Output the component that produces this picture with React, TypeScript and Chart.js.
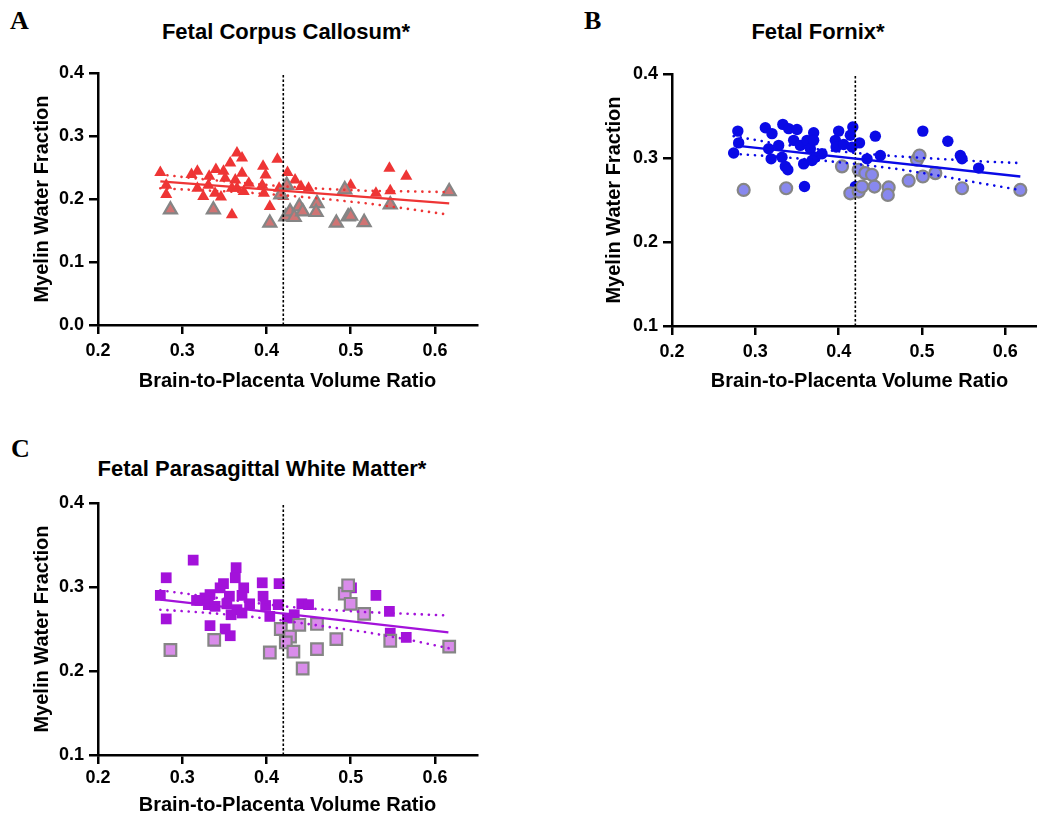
import React, { useEffect, useRef } from "react";
import { Chart, registerables } from "chart.js";

Chart.register(...registerables);

const FONT = "'Liberation Sans', Arial, Helvetica, sans-serif";
const SERIF = "'Liberation Serif', 'Times New Roman', serif";

// ---------- shared ----------
const xTicks = [0.2, 0.3, 0.4, 0.5, 0.6];
const xTitle = "Brain-to-Placenta Volume Ratio";
const yTitle = "Myelin Water Fraction";
const cutoffX = 0.42;
const bandX = [0.274, 0.32, 0.37, 0.42, 0.47, 0.52, 0.57, 0.617];

// ---------- Panel A: Corpus Callosum ----------
const aYTicks = [0, 0.1, 0.2, 0.3, 0.4];
const aRedX = [0.274, 0.281, 0.281, 0.311, 0.318, 0.318, 0.325, 0.332, 0.331, 0.340, 0.339, 0.346, 0.349, 0.351, 0.357, 0.359, 0.359, 0.365, 0.371, 0.371, 0.363, 0.365, 0.373, 0.379, 0.396, 0.399, 0.395, 0.397, 0.404, 0.413, 0.415, 0.425, 0.434, 0.441, 0.450, 0.500, 0.530, 0.546, 0.566, 0.547, 0.420];
const aRedY = [0.242, 0.222, 0.207, 0.239, 0.244, 0.217, 0.204, 0.236, 0.222, 0.247, 0.209, 0.203, 0.244, 0.233, 0.257, 0.217, 0.175, 0.273, 0.265, 0.241, 0.230, 0.217, 0.212, 0.225, 0.252, 0.238, 0.222, 0.209, 0.188, 0.263, 0.217, 0.242, 0.230, 0.220, 0.217, 0.222, 0.209, 0.249, 0.236, 0.213, 0.204];
const aGrayX = [0.286, 0.337, 0.404, 0.417, 0.424, 0.423, 0.428, 0.433, 0.439, 0.443, 0.460, 0.459, 0.483, 0.493, 0.497, 0.500, 0.516, 0.547, 0.617];
const aGrayY = [0.183, 0.183, 0.162, 0.207, 0.222, 0.172, 0.180, 0.171, 0.188, 0.180, 0.193, 0.179, 0.162, 0.215, 0.172, 0.173, 0.163, 0.191, 0.212];
const aFitX = [0.274, 0.617];
const aFitY = [0.228, 0.193];
const aUpper = [0.239, 0.232, 0.226, 0.220, 0.216, 0.213, 0.212, 0.211];
const aLower = [0.217, 0.214, 0.211, 0.206, 0.200, 0.193, 0.184, 0.175];

// ---------- Panel B: Fornix ----------
const bYTicks = [0.1, 0.2, 0.3, 0.4];
const bBlueX = [0.274, 0.279, 0.280, 0.312, 0.320, 0.316, 0.319, 0.328, 0.332, 0.333, 0.340, 0.350, 0.346, 0.336, 0.339, 0.354, 0.358, 0.359, 0.362, 0.366, 0.370, 0.370, 0.372, 0.368, 0.380, 0.396, 0.400, 0.397, 0.406, 0.414, 0.417, 0.416, 0.425, 0.420, 0.434, 0.444, 0.450, 0.501, 0.531, 0.546, 0.548, 0.568];
const bBlueY = [0.306, 0.332, 0.318, 0.336, 0.329, 0.311, 0.299, 0.315, 0.301, 0.340, 0.335, 0.334, 0.321, 0.290, 0.286, 0.315, 0.293, 0.266, 0.321, 0.311, 0.330, 0.321, 0.301, 0.297, 0.305, 0.321, 0.332, 0.313, 0.316, 0.327, 0.337, 0.313, 0.318, 0.266, 0.299, 0.326, 0.303, 0.332, 0.320, 0.303, 0.299, 0.288];
const bGrayX = [0.286, 0.337, 0.404, 0.414, 0.424, 0.424, 0.428, 0.432, 0.440, 0.443, 0.460, 0.459, 0.484, 0.494, 0.497, 0.501, 0.516, 0.548, 0.618];
const bGrayY = [0.262, 0.264, 0.290, 0.258, 0.260, 0.286, 0.266, 0.282, 0.280, 0.266, 0.265, 0.256, 0.273, 0.298, 0.303, 0.278, 0.282, 0.264, 0.262];
const bFitX = [0.274, 0.618];
const bFitY = [0.315, 0.278];
const bUpper = [0.326, 0.318, 0.311, 0.306, 0.302, 0.299, 0.296, 0.294];
const bLower = [0.305, 0.302, 0.298, 0.293, 0.287, 0.279, 0.270, 0.262];

// ---------- Panel C: Parasagittal White Matter ----------
const cYTicks = [0.1, 0.2, 0.3, 0.4];
const cPurpX = [0.274, 0.281, 0.281, 0.313, 0.317, 0.321, 0.327, 0.331, 0.333, 0.339, 0.333, 0.339, 0.345, 0.349, 0.351, 0.357, 0.356, 0.353, 0.358, 0.364, 0.363, 0.365, 0.371, 0.373, 0.371, 0.380, 0.395, 0.396, 0.399, 0.404, 0.415, 0.414, 0.425, 0.433, 0.442, 0.450, 0.501, 0.530, 0.546, 0.547, 0.566, 0.424];
const cPurpY = [0.290, 0.311, 0.262, 0.332, 0.284, 0.284, 0.287, 0.279, 0.291, 0.277, 0.254, 0.236, 0.299, 0.304, 0.250, 0.242, 0.289, 0.280, 0.267, 0.323, 0.311, 0.273, 0.269, 0.299, 0.290, 0.280, 0.305, 0.289, 0.278, 0.265, 0.304, 0.279, 0.263, 0.267, 0.280, 0.279, 0.299, 0.290, 0.271, 0.245, 0.240, 0.234];
const cGrayX = [0.286, 0.338, 0.404, 0.417, 0.428, 0.423, 0.432, 0.439, 0.443, 0.460, 0.460, 0.483, 0.493, 0.497, 0.500, 0.516, 0.547, 0.617];
const cGrayY = [0.225, 0.237, 0.222, 0.250, 0.241, 0.234, 0.223, 0.255, 0.203, 0.256, 0.226, 0.238, 0.292, 0.302, 0.280, 0.268, 0.236, 0.229];
const cFitX = [0.274, 0.616];
const cFitY = [0.285, 0.246];
const cUpper = [0.296, 0.290, 0.283, 0.277, 0.273, 0.270, 0.268, 0.266];
const cLower = [0.273, 0.270, 0.266, 0.260, 0.253, 0.246, 0.237, 0.227];

const zip = (xs: number[], ys: number[]) => xs.map((x, i) => ({ x, y: ys[i] }));

type PanelProps = {
  left: number;
  top: number;
  width: number;
  height: number;
  yAxisW: number;
  xAxisH: number;
  padTop: number;
  padRight: number;
  yTitlePad: number;
  xTitlePad: number;
  xTickPad: number;
  yTicks: number[];
  mainX: number[];
  mainY: number[];
  grayX: number[];
  grayY: number[];
  fitX: number[];
  fitY: number[];
  upper: number[];
  lower: number[];
  color: string;
  grayFill: string;
  style: string;
  mainRadius: number;
  grayRadius: number;
};

function Panel(p: PanelProps) {
  const ref = useRef<HTMLCanvasElement | null>(null);
  useEffect(() => {
    if (!ref.current) return;
    const yMin = p.yTicks[0];
    const yMax = p.yTicks[p.yTicks.length - 1];
    const tickFont = { family: FONT, size: 18, weight: "bold" as const };
    const titleFont = { family: FONT, size: 20, weight: "bold" as const };
    const band = (ys: number[]) =>
      ({
        type: "line",
        data: zip(bandX, ys),
        borderColor: p.color,
        borderWidth: 2.6,
        borderDash: [0.1, 7],
        borderCapStyle: "round",
        pointRadius: 0,
        showLine: true,
        order: 0,
      } as any);
    const chart = new Chart(ref.current, {
      type: "scatter",
      data: {
        datasets: [
          {
            type: "line",
            data: zip(p.fitX, p.fitY),
            borderColor: p.color,
            borderWidth: 2.4,
            pointRadius: 0,
            showLine: true,
            order: 0,
          } as any,
          band(p.upper),
          band(p.lower),
          {
            type: "line",
            data: [
              { x: cutoffX, y: yMin },
              { x: cutoffX, y: yMax + 0.003 },
            ],
            borderColor: "#000",
            borderWidth: 1.6,
            borderDash: [2.5, 2],
            pointRadius: 0,
            showLine: true,
            order: 0,
          } as any,
          {
            data: zip(p.grayX, p.grayY),
            pointStyle: p.style,
            pointRadius: p.grayRadius,
            backgroundColor: p.grayFill,
            borderColor: "#858585",
            borderWidth: 2.2,
            order: 1,
          } as any,
          {
            data: zip(p.mainX, p.mainY),
            pointStyle: p.style,
            pointRadius: p.mainRadius,
            backgroundColor: p.color,
            borderColor: p.color,
            borderWidth: 0,
            order: 2,
          } as any,
        ],
      },
      options: {
        animation: false,
        responsive: false,
        maintainAspectRatio: false,
        devicePixelRatio: 1,
        layout: { padding: { left: 0, top: p.padTop, right: p.padRight, bottom: 0 } },
        plugins: {
          legend: { display: false },
          tooltip: { enabled: false },
          title: { display: false },
        },
        scales: {
          x: {
            type: "linear",
            min: 0.2,
            max: 0.65,
            afterFit: (s: any) => {
              s.height = p.xAxisH;
            },
            afterBuildTicks: (s: any) => {
              s.ticks = xTicks.map((v) => ({ value: v }));
            },
            grid: {
              drawOnChartArea: false,
              drawTicks: true,
              tickLength: 9,
              tickWidth: 2.5,
              tickColor: "#000",
              color: "#000",
              lineWidth: 2.5,
            },
            border: { display: true, color: "#000", width: 2.5 },
            ticks: {
              color: "#000",
              font: tickFont,
              padding: p.xTickPad,
              maxRotation: 0,
              autoSkip: false,
              callback: (v: any) => Number(v).toFixed(1),
            },
            title: {
              display: true,
              text: xTitle,
              color: "#000",
              font: titleFont,
              padding: { top: 0, bottom: p.xTitlePad },
            },
          },
          y: {
            type: "linear",
            min: yMin,
            max: yMax,
            afterFit: (s: any) => {
              s.width = p.yAxisW;
            },
            afterBuildTicks: (s: any) => {
              s.ticks = p.yTicks.map((v) => ({ value: v }));
            },
            grid: {
              drawOnChartArea: false,
              drawTicks: true,
              tickLength: 9,
              tickWidth: 2.5,
              tickColor: "#000",
              color: "#000",
              lineWidth: 2.5,
            },
            border: { display: true, color: "#000", width: 2.5 },
            ticks: {
              color: "#000",
              font: tickFont,
              padding: 5,
              autoSkip: false,
              callback: (v: any) => Number(v).toFixed(1),
            },
            title: {
              display: true,
              text: yTitle,
              color: "#000",
              font: titleFont,
              padding: { top: p.yTitlePad, bottom: 0 },
            },
          },
        },
      } as any,
    });
    return () => chart.destroy();
  }, []);
  return (
    <canvas
      ref={ref}
      width={p.width}
      height={p.height}
      style={{ position: "absolute", left: p.left, top: p.top, width: p.width, height: p.height }}
    />
  );
}

function Label(props: { text: string; x: number; baseline: number; size: number; serif?: boolean; center?: boolean }) {
  const fs = props.size;
  const ascentShift = props.serif ? 0.8375 : 0.8465;
  const top = props.baseline - ascentShift * fs;
  return (
    <div
      style={{
        position: "absolute",
        left: props.center ? props.x - 300 : props.x,
        width: props.center ? 600 : undefined,
        textAlign: props.center ? "center" : "left",
        top,
        fontFamily: props.serif ? SERIF : FONT,
        fontWeight: "bold",
        fontSize: fs,
        lineHeight: 1,
        color: "#000",
        whiteSpace: "nowrap",
      }}
    >
      {props.text}
    </div>
  );
}

export default function App() {
  return (
    <div
      style={{
        position: "absolute",
        left: 0,
        top: 0,
        width: 1037,
        height: 820,
        overflow: "hidden",
        background: "#fff",
      }}
    >
      <Label text="A" x={10} baseline={30} size={26} serif />
      <Label text="Fetal Corpus Callosum*" x={286} baseline={40} size={22} center />
      <Label text="B" x={584} baseline={30} size={26} serif />
      <Label text="Fetal Fornix*" x={818} baseline={40} size={22} center />
      <Label text="C" x={11} baseline={458} size={26} serif />
      <Label text="Fetal Parasagittal White Matter*" x={262} baseline={477} size={22} center />

      <Panel
        left={0}
        top={0}
        width={520}
        height={400}
        yAxisW={98}
        xAxisH={75}
        padTop={73}
        padRight={43}
        yTitlePad={30}
        xTitlePad={7}
        xTickPad={6}
        yTicks={aYTicks}
        mainX={aRedX}
        mainY={aRedY}
        grayX={aGrayX}
        grayY={aGrayY}
        fitX={aFitX}
        fitY={aFitY}
        upper={aUpper}
        lower={aLower}
        color="#EE3535"
        grayFill="#D07474"
        style="triangle"
        mainRadius={7}
        grayRadius={7.5}
      />
      <Panel
        left={560}
        top={0}
        width={560}
        height={400}
        yAxisW={112}
        xAxisH={74}
        padTop={74}
        padRight={73}
        yTitlePad={42}
        xTitlePad={7}
        xTickPad={6}
        yTicks={bYTicks}
        mainX={bBlueX}
        mainY={bBlueY}
        grayX={bGrayX}
        grayY={bGrayY}
        fitX={bFitX}
        fitY={bFitY}
        upper={bUpper}
        lower={bLower}
        color="#0A0AE6"
        grayFill="#8888EE"
        style="circle"
        mainRadius={5.7}
        grayRadius={6}
      />
      <Panel
        left={0}
        top={420}
        width={520}
        height={400}
        yAxisW={98}
        xAxisH={65}
        padTop={83}
        padRight={43}
        yTitlePad={30}
        xTitlePad={3}
        xTickPad={3}
        yTicks={cYTicks}
        mainX={cPurpX}
        mainY={cPurpY}
        grayX={cGrayX}
        grayY={cGrayY}
        fitX={cFitX}
        fitY={cFitY}
        upper={cUpper}
        lower={cLower}
        color="#A312DA"
        grayFill="#D98CEA"
        style="rect"
        mainRadius={7.6}
        grayRadius={8.2}
      />
    </div>
  );
}
